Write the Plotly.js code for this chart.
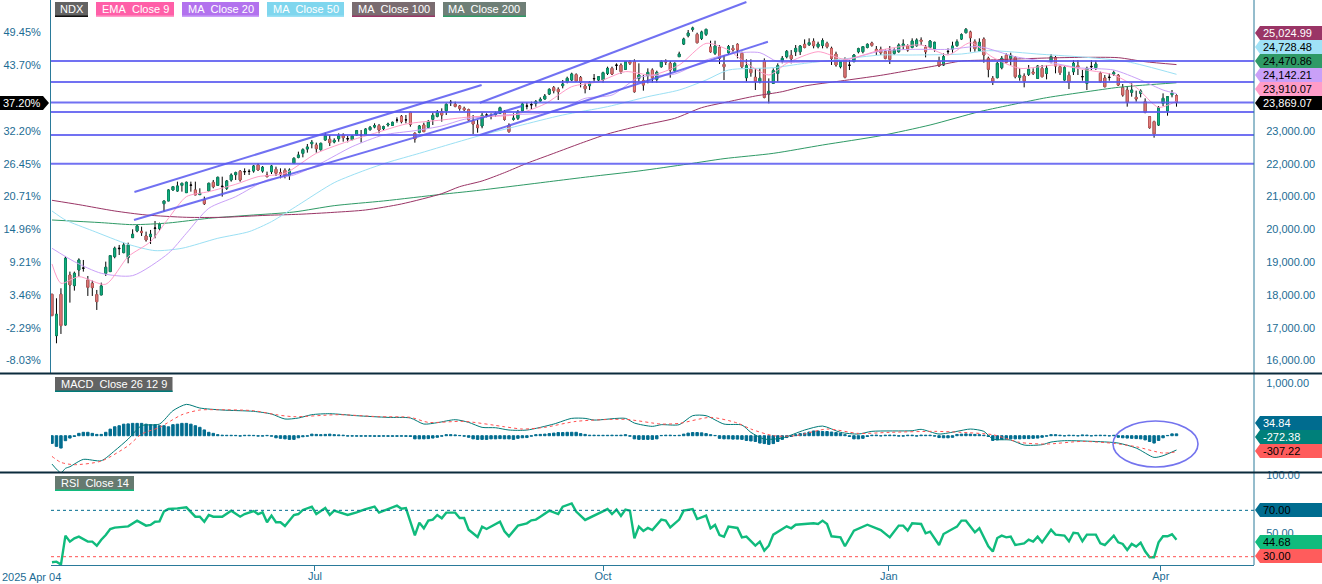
<!DOCTYPE html>
<html><head><meta charset="utf-8">
<script src="https://cdn.plot.ly/plotly-3.0.1.min.js"></script>
<style>html,body{margin:0;padding:0;background:#fff}#c{width:1322px;height:584px}</style>
</head><body><div id="c"></div>
<script>
const opens=[18022,16762,18022,17087,18611,18286,18763,18814,18459,18357,18012,18002,18662,18713,19170,19410,19292,19139,19749,19952,19942,19800,19780,20030,20023,20785,20867,21202,21171,21344,21121,21344,21202,21060,20897,21171,21436,21344,21300,21253,21507,21669,21771,21755,21765,21781,21964,21781,21659,21761,21832,21730,21801,21639,22014,22197,22319,22451,22614,22573,22431,22726,22746,22665,22767,22878,22755,22736,22878,22873,22898,23041,23122,23163,23071,23183,23173,23330,23447,23335,23569,22929,22959,23183,23112,23356,23447,
23589,23620,23865,23813,23762,23691,23650,23305,23183,23153,23480,23450,23500,23539,23589,23183,23356,23386,23620,23755,23795,23843,23915,23975,24128,24321,24270,24382,24504,24555,24717,24626,24372,24382,24590,24555,24555,24758,24910,25000,25012,24880,25113,25113,24605,24534,24687,24859,24575,24961,25124,25063,24839,25266,25652,25906,26099,25946,25825,25946,25560,25367,25550,25032,25388,25520,25642,25367,24626,24880,24636,24504,25134,24128,24453,24758,25134,25266,25306,25418,25418,25642,25632,25733,25571,25611,25672,25520,25347,24961,25185,25000,25113,25418,25418,25550,25682,25489,
25489,25418,25469,25367,25418,25601,25591,25550,25601,25774,25550,25550,25510,25134,25012,25415,25499,25601,25804,25997,26018,25723,25449,25804,25215,24605,24626,24930,25306,25215,25245,24636,24677,24727,24798,24605,24910,24758,25113,25235,24961,24555,24697,24808,24991,24650,24453,24955,24930,24758,24616,24630,24738,24697,24321,24250,24179,24026,24148,23894,23437,23285,23183,23843,23610,24108,24077];
const closes=[17371,17412,17067,19119,18306,18662,19068,18824,18235,18225,17798,18276,18845,19200,19424,19424,19525,19525,19851,20105,19902,19678,19851,20044,20155,20867,21202,21303,21324,21405,21436,21354,21050,21100,20785,21405,21303,21588,21315,21476,21659,21730,21507,21761,21771,21933,21811,21893,21608,21933,21710,21669,21639,21811,22167,22268,22431,22512,22655,22462,22624,22858,22645,22715,22858,22797,22767,22848,23010,22883,23061,23112,23163,23031,23132,23214,23264,23335,23285,23340,23203,22756,23152,22980,23295,23478,23579,
23488,23813,23875,23752,23691,23650,23335,23213,23102,23478,23490,23460,23540,23711,23356,22980,23386,23589,23823,23765,23805,23894,23965,24067,24270,24230,24199,24433,24606,24737,24524,24484,24290,24473,24600,24656,24778,24910,24737,25010,24809,25113,25063,24199,24707,24402,24788,24626,24788,25113,25103,24859,25063,25347,25804,25987,26140,25692,26018,26099,25418,25591,25215,24961,25571,25469,25469,24961,24991,24778,24504,24606,24026,24209,24839,24991,25215,25428,25205,25520,25591,25550,25692,25601,25652,25753,25571,25215,25012,25113,24636,25010,25317,25510,25571,25642,25611,25428,
25388,25215,25185,25469,25621,25652,25469,25743,25774,25733,25418,25743,25703,24981,25266,25428,25591,25723,25936,26099,25845,25510,25703,25317,24880,24504,25063,25215,25093,25306,24656,24697,24524,24880,24758,24981,24656,24910,25266,24981,24778,24930,24484,25063,24941,24660,24910,24970,25042,24504,24351,24640,24778,24402,24097,23874,24250,23975,24219,23569,23102,22909,23711,23996,24047,24158,23869];
const highs=[18022,17900,18205,19190,18713,18713,19119,19068,18580,18438,18154,18377,19017,19220,19475,19525,19596,19596,20003,20135,20084,19932,19983,20257,20206,20867,21222,21324,21456,21425,21456,21456,21456,21253,20999,21425,21507,21608,21608,21507,21710,21761,21811,21862,21832,21964,22014,21933,21761,21964,21913,21862,21862,21862,22197,22370,22472,22604,22726,22645,22645,22949,22878,22777,22929,22929,22848,22878,23031,23031,23082,23153,23234,23214,23163,23254,23285,23417,23488,23488,23590,22960,23183,23254,23336,23559,23640,
23691,23843,23945,23894,23793,23742,23681,23488,23335,23559,23539,23539,23590,23742,23640,23234,23539,23640,23864,23864,23894,23945,24026,24128,24301,24372,24331,24555,24656,24778,24758,24677,24453,24524,24737,24677,24808,24961,24961,25063,25063,25134,25164,25185,25063,24707,24910,24910,24839,25164,25185,25134,25093,25418,25845,26079,26180,25997,26058,26119,25753,25753,25621,25317,25621,25621,25672,25418,25185,25185,24910,24910,25215,24605,24910,25063,25286,25469,25469,25621,25621,25794,25825,25825,25723,25825,25723,25571,25418,25164,25245,25164,25347,25540,25591,25672,25723,25591,
25571,25489,25591,25520,25672,25794,25642,25825,25825,25855,25621,25774,25723,25266,25367,25520,25723,25794,25977,26140,26058,25794,25825,25855,25266,24677,25113,25286,25367,25388,25286,24910,24758,25012,24910,25012,25012,25012,25347,25286,25012,24981,24809,25164,25164,24859,24961,25164,25144,24809,24707,24758,24839,24737,24433,24372,24453,24229,24270,23996,23457,23315,23762,24148,24067,24250,24118];
const lows=[17371,16528,16813,17067,17768,18134,18560,18713,17971,17971,17544,18002,18580,18713,19119,19220,19272,18967,19749,19912,19800,19627,19556,19729,19963,20541,20867,21181,21151,21151,21121,21151,21050,21050,20745,21151,21253,21324,21000,21202,21456,21507,21456,21659,21659,21730,21791,21730,21588,21689,21629,21557,21557,21507,21994,22167,22197,22340,22472,22340,22401,22705,22543,22624,22675,22675,22655,22726,22848,22645,22878,23010,23082,22929,23010,23132,23153,23254,23234,23234,23132,22645,22929,22980,23082,23183,23417,
23285,23488,23762,23722,23620,23610,23315,22909,22949,23082,23417,23356,23437,23519,23315,22949,23315,23335,23589,23661,23661,23742,23894,23965,24097,24148,23945,24301,24453,24524,24504,24331,24148,24250,24504,24524,24473,24707,24707,24859,24737,24859,25012,24169,24504,24230,24453,24473,24473,24930,25012,24626,24808,25266,25621,25855,26028,25672,25774,25896,25388,25317,25042,24555,25317,25418,25215,24910,24504,24656,24250,24453,23996,23843,24453,24504,25063,25215,25063,25286,25317,25520,25591,25520,25520,25520,25520,25012,24961,24910,24605,24859,25113,25367,25367,25520,25571,25317,
25317,25185,25042,25317,25388,25469,25418,25520,25571,25621,25245,25520,25418,24961,24981,25317,25388,25571,25774,25977,25418,25418,25418,25083,24636,24402,24605,24880,25063,25012,24605,24534,24331,24677,24707,24585,24636,24575,25063,24758,24707,24534,24280,24707,24707,24534,24250,24859,24859,24473,24331,24534,24677,24372,24047,23742,24047,23894,24026,23539,23071,22797,23153,23762,23467,24026,23742];

const ma100X=[0,6,14,21,30,38,48,55,63,70,78,87,91,96,101,106,112,118,124,131,139,145,151,157,163,168,176,185,191,197,203,209,222,230,238,244,251];
const ma100Y=[20887,20755,20562,20440,20369,20369,20430,20460,20521,20592,20775,21090,21303,21476,21730,22015,22319,22624,22909,23153,23386,23711,23894,24067,24199,24372,24524,24697,24839,24981,25134,25164,25225,25245,25235,25113,25025];
const ma200X=[0,11,18,26,35,44,54,63,74,87,94,102,111,120,131,142,150,161,172,185,196,207,215,222,231,238,244,251];
const ma200Y=[20287,20206,20145,20196,20338,20430,20531,20724,20867,21070,21171,21303,21456,21608,21781,21994,22157,22319,22573,22858,23183,23589,23823,24016,24199,24331,24402,24471];
const ma50X=[0,3,9,17,23,29,37,44,49,55,63,70,75,82,87,96,104,114,124,133,140,146,151,161,168,176,185,192,203,209,221,231,240,251];
const ma50Y=[20562,20287,19962,19546,19353,19424,19729,19932,20237,20745,21425,21811,22045,22319,22523,22878,23153,23488,23742,24047,24250,24555,24859,24930,25063,25185,25317,25317,25347,25449,25337,25245,25113,24728];
const ma20X=[0,5,11,18,26,30,35,41,48,54,60,67,74,81,87,92,101,109,114,119,125,131,139,146,152,158,162,170,177,185,192,200,207,215,222,229,237,243,248,251];
const ma20Y=[19424,19017,18662,18591,19272,19881,20643,20999,21507,21659,22015,22523,22878,23010,23153,23356,23488,23539,23691,23996,24097,24636,24737,25164,25367,25388,25113,25113,25164,25438,25489,25489,25571,25266,25113,24930,24859,24555,24250,24142];
const ema9X=[0,2,6,12,17,22,26,30,35,41,46,52,59,67,72,79,87,94,103,110,116,122,128,134,140,146,151,154,160,164,171,177,185,194,200,205,210,216,224,231,237,242,247,251];
const ema9Y=[18946,18357,18560,18327,19170,19627,20338,20999,21151,21375,21608,21710,22319,22726,22929,23213,23335,23437,23488,23823,24351,24504,24809,24707,25012,25672,25469,25164,24707,25063,25418,25185,25469,25621,25317,25692,25245,24910,25012,24859,24707,24331,23722,23910];
const levels=[25134,24494,23869,23580,22880,22000];
const channelX=[[18.4,95.9],[18.3,104.9],[95.5,155],[95.5,159.8]];
const channelY=[[21140,24402],[20287,23762],[23863,26933],[22878,25723]];

const histogram=[-146,-203,-235,-95,-45,-15,45,65,65,45,25,25,65,125,170,190,220,225,235,235,235,220,210,210,190,190,170,210,220,235,235,220,190,160,110,65,45,20,10,8,8,6,-8,8,8,6,-8,-8,6,-10,-40,-50,-60,-70,-70,-40,-20,-10,30,25,20,25,30,20,15,10,-8,-8,-10,-10,-10,-10,-12,-12,-10,-12,-12,-12,-10,-12,-15,-60,-60,-60,-55,-45,-30,-10,20,20,15,5,-10,-30,-60,-70,-70,-70,-60,-60,-55,-60,-60,-70,-50,-40,-35,-10,20,25,30,40,50,60,60,65,65,65,40,25,10,10,8,8,8,10,8,10,20,-10,-60,-70,-70,-70,-70,-60,5,10,10,5,8,30,50,60,60,55,40,20,5,-50,-60,-60,-65,-65,-70,-90,-100,-110,-140,-150,-165,-150,-110,-70,-35,-15,20,40,50,70,90,90,80,80,70,60,45,20,-15,-60,-60,-50,-15,10,12,-5,10,12,10,-8,-8,10,10,-8,12,10,10,-8,-35,-40,-40,-30,25,30,35,30,25,20,10,-15,-90,-80,-70,-60,-60,-60,-60,-55,-55,-50,-45,-30,-10,20,20,10,-5,10,8,-5,15,12,-5,8,10,8,-5,8,-30,-40,-45,-50,-55,-60,-80,-110,-140,-90,-40,5,35,35];
const macdX=[0,2,3,4,7,11,14,17,20,24,27,30,33,38,45,49,52,55,58,62,68,75,80,83,86,90,93,96,99,102,106,112,116,119,121,128,130,134,136,140,143,146,150,154,156,159,163,168,172,176,180,183,192,194,198,202,205,208,210,214,217,221,223,226,234,238,242,246,248,251];
const macdY=[-540,-705,-622,-590,-451,-476,-286,-64,190,222,476,597,527,489,464,413,318,337,400,419,381,349,337,222,248,305,254,159,152,108,108,222,330,330,298,330,241,178,210,210,381,381,222,203,64,-64,-44,108,184,64,32,83,95,121,32,83,127,83,-64,-83,-178,-171,-121,-95,-114,-140,-235,-413,-381,-272];
const signalX=[0,2,5,11,17,20,24,29,33,37,45,50,54,64,73,80,84,92,101,105,110,117,128,136,140,147,153,156,161,166,173,180,187,197,203,210,216,222,230,237,242,248,251];
const signalY=[-394,-508,-552,-483,-191,32,159,400,489,495,476,400,362,400,362,349,254,273,171,127,159,273,311,222,235,349,241,127,0,0,127,44,64,83,64,19,-127,-159,-108,-146,-210,-330,-307];

const rsiX=[0,1,2,3,4,5,6,8,9,10,11,12,13,14,17,19,21,22,23,24,25,26,28,30,32,33,34,35,36,38,40,42,43,45,46,47,48,49,50,51,52,54,55,56,58,59,61,62,63,66,68,70,72,73,75,77,78,79,81,82,83,84,85,86,87,88,90,91,92,93,95,96,97,100,101,102,104,106,107,108,109,110,111,113,114,116,117,119,124,125,126,127,128,129,130,131,132,133,134,136,137,138,140,141,143,144,146,147,148,149,150,151,153,154,155,157,158,159,160,161,164,165,166,170,171,172,173,174,176,177,179,182,185,187,189,190,191,192,194,195,196,198,199,201,202,203,204,206,207,209,210,211,212,213,214,215,217,218,219,220,221,223,224,226,227,228,229,230,231,233,234,235,237,238,239,240,241,242,243,244,245,246,247,248,249,250,251];
const rsiY=[25.2,25.7,23.2,48.2,43,45.9,47.3,43,43,39.5,44.7,48.7,53.9,55.1,56.2,61.1,56.8,57.4,60.2,60.5,69.1,71.1,71.7,72.6,64.5,64.5,60.2,66,64.5,64.5,69.7,64.5,66.8,69.4,66.8,68.3,59.7,65.4,59.7,59.7,56.5,66,66.8,70.3,73.2,66.8,72,66,69.7,66,68.3,71.1,73.2,68,71.1,74,71.4,72,48.4,59.4,54.5,61.1,62,66,63.1,68,68,63.4,63.4,53.3,47,55.9,53.9,60.2,51.9,47.6,56.8,58.8,61.4,62,64.5,66.8,69.7,66.8,73.2,76,68.9,61.7,71.1,66.8,70.6,65.1,70.6,69.7,45.9,55.9,52.2,54.8,53,62,61.1,55.3,62,69.7,71.1,62.5,65.4,54.5,57.4,48.7,47.3,55.9,54.8,46.7,47.3,39.5,43,35.2,39.5,49,56.2,54.5,57.6,58.8,58.2,61.1,58.2,47.6,46.7,39,52.5,57.6,53,46.7,56.8,56.8,52.5,58.8,58.2,50.2,51.6,40.1,49.6,53.9,55.9,61.1,61.1,51,54.5,39,34.4,46.1,48.2,46.7,47.3,40.1,41.5,44.7,43,47.3,42.4,53.3,49,48.2,43.3,50.7,50.2,43.3,49,49,41.5,40.1,48.2,42.4,41,35.8,41,38.7,42.1,34.7,29.5,29.5,42.4,47.6,47.6,49.3,44.7];

const priceTicks=[16000,17000,18000,19000,20000,21000,22000,23000];
const priceLabels=['16,000.00','17,000.00','18,000.00','19,000.00','20,000.00','21,000.00','22,000.00','23,000.00'];
const pctTicks=[16000,17000,18000,19000,20000,21000,22000,23000,25000,26000];
const pctLabels=['-8.03%','-2.29%','3.46%','9.21%','14.96%','20.71%','26.45%','32.20%','43.70%','49.45%'];
const dateTicks=[58.7,123,186.8,247.5];
const dateLabels=['Jul','Oct','Jan','Apr'];

const W=1322,H=584;
const px=v=>v/W, py=v=>1-v/H;
const idx=opens.map((_,i)=>i);
const bodyIdx=idx.filter(i=>Math.abs(opens[i]-closes[i])>15);
const FONT='"Liberation Sans",Arial,sans-serif';
const TICK='#1c6c94';
const MA100='#9a3566',MA200='#2f9a66',MA50='#9be0f4',MA20='#c9a0f8',EMA9='#ff9cc8',ROYAL='rgba(88,88,240,0.85)';
const GREEN='#12b886',GREENL='#0c8f68',RED='#e58583',REDL='#cc5f5f',TEAL='#006c8f',RSI='#10bb7d';

const ln=(x,y,c,w,name,ya,dash)=>({type:'scatter',mode:'lines',x,y,xaxis:'x',yaxis:ya||'y',name,hoverinfo:'skip',line:{color:c,width:w,dash:dash||'solid'}});
const smooth=t=>{t.line.shape='spline';t.line.smoothing=0.7;return t;};
const traces=[
 {type:'candlestick',x:idx,open:opens,high:highs,low:lows,close:closes,name:'NDX wick',hoverinfo:'skip',
  increasing:{line:{color:'#000',width:1}},decreasing:{line:{color:'#000',width:1}}},
 {type:'candlestick',x:bodyIdx,open:bodyIdx.map(i=>opens[i]),close:bodyIdx.map(i=>closes[i]),high:bodyIdx.map(i=>Math.max(opens[i],closes[i])),low:bodyIdx.map(i=>Math.min(opens[i],closes[i])),name:'NDX',hoverinfo:'skip',
  increasing:{line:{color:GREENL,width:1},fillcolor:GREEN},decreasing:{line:{color:REDL,width:1},fillcolor:RED}},
 smooth(ln(ma200X,ma200Y,MA200,1,'MA 200')),
 smooth(ln(ma100X,ma100Y,MA100,1,'MA 100')),
 smooth(ln(ma50X,ma50Y,MA50,1,'MA 50')),
 smooth(ln(ma20X,ma20Y,MA20,1,'MA 20')),
 smooth(ln(ema9X,ema9Y,EMA9,1,'EMA 9')),
 {type:'scatter',mode:'lines',x:[0,0],y:[20000,20000],yaxis:'y4',xaxis:'x',hoverinfo:'skip',line:{color:'rgba(0,0,0,0)'}},
 {type:'bar',x:idx,y:histogram,xaxis:'x',yaxis:'y2',marker:{color:TEAL,line:{width:1,color:TEAL}},hoverinfo:'skip',name:'hist'},
 smooth(ln(macdX,macdY,'#007a78',1,'MACD','y2')),
 smooth(ln(signalX,signalY,'#ff5050',1,'Signal','y2','dot')),
 ln(rsiX,rsiY,RSI,2.4,'RSI','y3')
];
channelX.forEach((cx,k)=>traces.push(ln(cx,channelY[k],ROYAL,2,'channel')));

const shapes=[],anns=[];
levels.forEach(v=>shapes.push({type:'line',xref:'paper',yref:'y',x0:px(51),x1:px(1254),y0:v,y1:v,line:{color:ROYAL,width:2},layer:'above'}));
shapes.push({type:'line',xref:'paper',yref:'y3',x0:px(51),x1:px(1254),y0:70,y1:70,line:{color:TEAL,width:1,dash:'dot'}});
shapes.push({type:'line',xref:'paper',yref:'y3',x0:px(51),x1:px(1254),y0:30,y1:30,line:{color:'#ff5050',width:1,dash:'dot'}});
const seg=(a,b,c,d,col,w)=>shapes.push({type:'line',xref:'paper',yref:'paper',x0:px(a),y0:py(b),x1:px(c),y1:py(d),line:{color:col,width:w}});
seg(50.5,0,50.5,373,'#2a7a9a',1);
seg(1254,0,1254,565,'#2a7a9a',1);
seg(0,373.5,W,373.5,'#0b2b3c',2);
seg(0,472.5,W,472.5,'#0b2b3c',2);
shapes.push({type:'circle',xref:'paper',yref:'paper',x0:px(1113),x1:px(1198),y0:py(421),y1:py(467),line:{color:'#7474ee',width:1.6}});

const label=(x0,x1,y0,y1,text,bg,ul)=>{
 shapes.push({type:'rect',xref:'paper',yref:'paper',x0:px(x0),x1:px(x1),y0:py(y0),y1:py(y1),fillcolor:bg,line:{width:0},layer:'above'});
 shapes.push({type:'rect',xref:'paper',yref:'paper',x0:px(x0),x1:px(x1),y0:py(y1-1.5),y1:py(y1),fillcolor:ul,line:{width:0},layer:'above'});
 anns.push({xref:'paper',yref:'paper',x:px((x0+x1)/2),y:py((y0+y1)/2-0.5),text,showarrow:false,xanchor:'center',yanchor:'middle',font:{family:FONT,size:11,color:'#fff'}});
};
label(55,88,2,17,'NDX','#636363','#111');
label(96,174,2,17,'EMA\u00a0\u00a0Close 9','#ff5fa8','#ff9cc8');
label(182,259,2,17,'MA\u00a0\u00a0Close 20','#b272ee','#c9a0f8');
label(267,344,2,17,'MA\u00a0\u00a0Close 50','#7fd6ee','#9be0f4');
label(352,435,2,17,'MA\u00a0\u00a0Close 100','#7a6c70',MA100);
label(443,526,2,17,'MA\u00a0\u00a0Close 200','#6f7f77',MA200);
label(55,172.5,377,392,'MACD\u00a0\u00a0Close 26 12 9','#636363','#007a78');
label(55,134,476,491,'RSI\u00a0\u00a0Close 14','#667a70',RSI);

const tag=(y,text,bg,fg)=>{
 const a=px(1255),b=px(1260),c=px(W),t=py(y-7),m=py(y),d=py(y+7);
 shapes.push({type:'path',xref:'paper',yref:'paper',path:`M ${a} ${m} L ${b} ${t} L ${c} ${t} L ${c} ${d} L ${b} ${d} Z`,fillcolor:bg,line:{width:0},layer:'above'});
 anns.push({xref:'paper',yref:'paper',x:px(1261),y:m,text,showarrow:false,xanchor:'left',yanchor:'middle',font:{family:FONT,size:11,color:fg}});
};
tag(33,'25,024.99',MA100,'#fff');
tag(47,'24,728.48','#a0e2f6','#000');
tag(61,'24,470.86',MA200,'#000');
tag(75,'24,142.21',MA20,'#000');
tag(89,'23,910.07',EMA9,'#000');
tag(103,'23,869.07','#000','#fff');
tag(423,'34.84',TEAL,'#fff');
tag(437,'-272.38','#00807a','#fff');
tag(451,'-307.22','#ff5c5c','#000');
tag(510,'70.00',TEAL,'#000');
tag(542,'44.68',RSI,'#000');
tag(556,'30.00','#ff5c5c','#000');

const lt=px(49),lt2=px(43),ym=py(103);
shapes.push({type:'path',xref:'paper',yref:'paper',path:`M 0 ${py(96)} L ${lt2} ${py(96)} L ${lt} ${ym} L ${lt2} ${py(110)} L 0 ${py(110)} Z`,fillcolor:'#000',line:{width:0},layer:'above'});
anns.push({xref:'paper',yref:'paper',x:px(22),y:ym,text:'37.20%',showarrow:false,xanchor:'center',yanchor:'middle',font:{family:FONT,size:11,color:'#fff'}});
anns.push({xref:'paper',yref:'paper',x:0,y:py(577),text:'2025 Apr 04',showarrow:false,xanchor:'left',yanchor:'middle',font:{family:FONT,size:11,color:TICK}});

const yBase={showgrid:false,zeroline:false,showline:false,ticks:'outside',ticklen:9,tickcolor:'rgba(0,0,0,0)',side:'right',anchor:'x',tickfont:{family:FONT,size:11,color:TICK},tickmode:'array',fixedrange:true};
const layout={width:W,height:H,margin:{l:0,r:0,t:0,b:0,pad:0},paper_bgcolor:'#fff',plot_bgcolor:'#fff',showlegend:false,bargap:0.45,boxgap:0.4,hovermode:false,
 xaxis:{domain:[px(51),px(1254)],range:[-0.22,268.3],anchor:'y3',showgrid:false,zeroline:false,showline:true,linecolor:'#2a7a9a',linewidth:1,ticks:'outside',ticklen:5,tickcolor:'#2a7a9a',ticklabelstandoff:-4,tickmode:'array',tickvals:dateTicks,ticktext:dateLabels,tickfont:{family:FONT,size:11,color:TICK},rangeslider:{visible:false},fixedrange:true},
 yaxis:Object.assign({},yBase,{domain:[py(373),1],range:[15622,26994],tickvals:priceTicks,ticktext:priceLabels}),
 yaxis2:Object.assign({},yBase,{domain:[py(472),py(374)],range:[-691,1175],tickvals:[1000],ticktext:['1,000.00']}),
 yaxis3:Object.assign({},yBase,{domain:[py(565),py(473)],range:[22.84,102.2],tickvals:[50,100],ticktext:['50.00','100.00']}),
 yaxis4:Object.assign({},yBase,{overlaying:'y',side:'left',range:[15622,26994],tickvals:pctTicks,ticktext:pctLabels,ticklen:7}),
 shapes,annotations:anns};
Plotly.newPlot('c',traces,layout,{staticPlot:true,displayModeBar:false});
</script></body></html>
